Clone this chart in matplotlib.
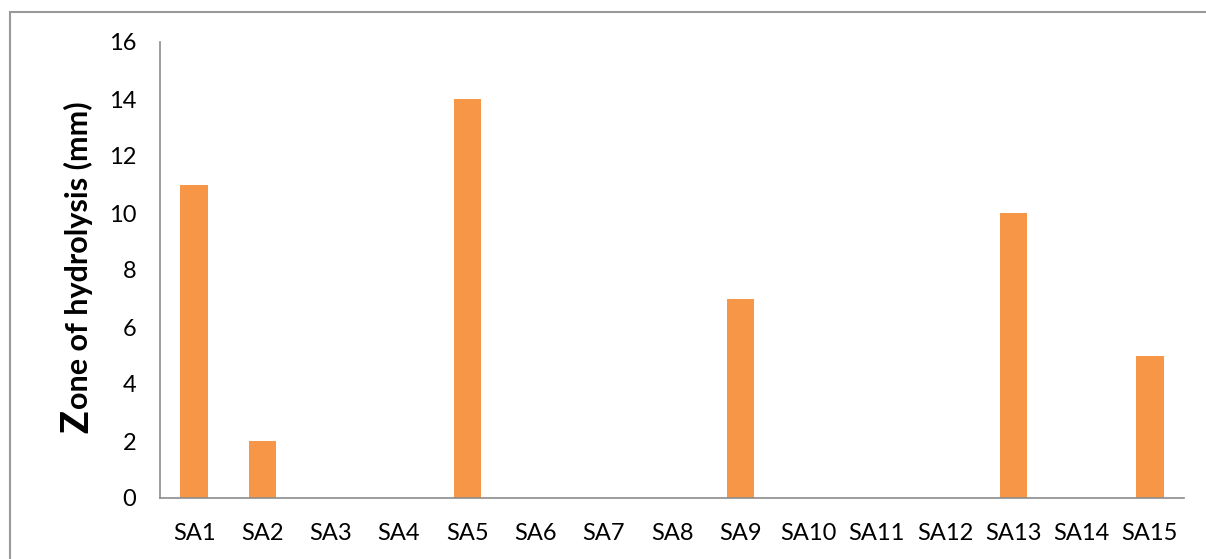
import matplotlib.pyplot as plt
from matplotlib.patches import Rectangle

# isolate data
isolates = ['SA1', 'SA2', 'SA3', 'SA4', 'SA5', 'SA6', 'SA7', 'SA8',
            'SA9', 'SA10', 'SA11', 'SA12', 'SA13', 'SA14', 'SA15']
zone_mm = [11, 2, 0, 0, 14, 0, 0, 0, 7, 0, 0, 0, 10, 0, 5]
y_ticks = [0, 2, 4, 6, 8, 10, 12, 14, 16]

plt.rcParams['font.family'] = ['Lato', 'DejaVu Sans']

W, H = 1206, 559
fig = plt.figure(figsize=(W / 100, H / 100), dpi=100)
ax = fig.add_axes([160 / W, 1 - 498 / H, (1184 - 160) / W, (498 - 42) / H])

ax.bar(range(len(isolates)), zone_mm, width=0.4, color='#F79646')
ax.set_xlim(-0.5, len(isolates) - 0.5)
ax.set_ylim(0, 16)
ax.set_yticks(y_ticks)
ax.set_xticks(range(len(isolates)))
ax.set_xticklabels(isolates)
ax.tick_params(axis='both', length=0, labelsize=17, colors='black')
ax.tick_params(axis='y', pad=17)
ax.tick_params(axis='x', pad=18)
for s in ['top', 'right']:
    ax.spines[s].set_visible(False)
for s in ['left', 'bottom']:
    ax.spines[s].set_color('#8c8c8c')
    ax.spines[s].set_linewidth(1.2)

# outer frame
fig.patches.append(Rectangle((10 / W, -0.1), 1.2, 1 - 12 / H + 0.1,
                             transform=fig.transFigure, fill=False,
                             edgecolor='#999999', linewidth=1.5))

# y label: big "Z" then the rest
zt = fig.text(88 / W, 1 - 433 / H, 'Z', rotation=90, rotation_mode='anchor',
              ha='left', va='baseline', fontsize=27, fontweight='black')
fig.canvas.draw()
bb = zt.get_window_extent(fig.canvas.get_renderer())
fig.text(88 / W, (bb.y1 + 1) / H, 'one of hydrolysis (mm)', rotation=90,
         rotation_mode='anchor', ha='left', va='baseline',
         fontsize=22, fontweight='bold')

fig.savefig('out.png', dpi=100)
